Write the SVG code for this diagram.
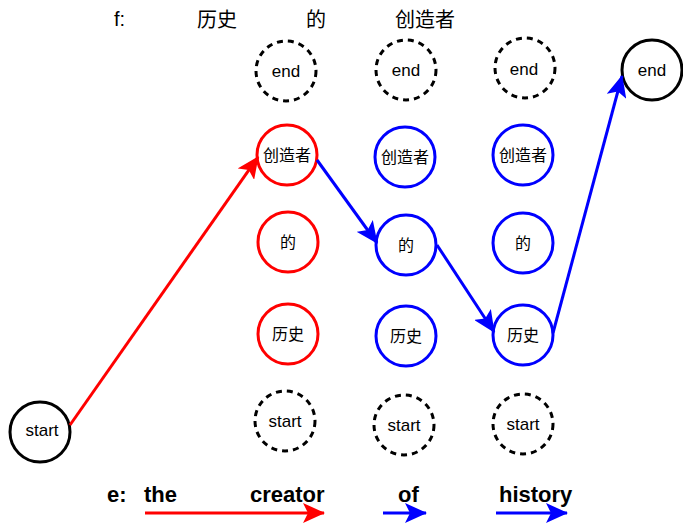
<svg xmlns="http://www.w3.org/2000/svg" width="683" height="529" viewBox="0 0 683 529">
<style>
.n{fill:#fff;stroke-width:3}
.k{stroke:#000}
.r{stroke:#f00}
.b{stroke:#00f}
.d{stroke:#000;stroke-dasharray:6 5}
.t{font-family:"Liberation Sans",Arial,sans-serif;font-size:17px;fill:#000;text-anchor:middle}
.c{font-family:"Noto Sans CJK SC",sans-serif;font-size:16px;fill:#000;text-anchor:middle}
.top{font-family:"Noto Sans CJK SC",sans-serif;font-size:20px;fill:#000}
.e{font-family:"Liberation Sans",Arial,sans-serif;font-size:22px;font-weight:bold;fill:#000}
.lr{stroke:#f00;stroke-width:3;fill:none}
.lb{stroke:#00f;stroke-width:3;fill:none}
</style>
<defs>
<marker id="ar" viewBox="0 0 22 20" refX="21" refY="10" markerWidth="22" markerHeight="20" markerUnits="userSpaceOnUse" orient="auto"><path d="M0,0 L22,10 L0,20 L5,10 Z" fill="#f00"/></marker>
<marker id="ab" viewBox="0 0 22 20" refX="21" refY="10" markerWidth="22" markerHeight="20" markerUnits="userSpaceOnUse" orient="auto"><path d="M0,0 L22,10 L0,20 L5,10 Z" fill="#00f"/></marker>
</defs>
<g id="labels">
<text x="114" y="26" class="top" style="font-family:'Liberation Sans',Arial,sans-serif">f:</text>
<text x="197" y="27" class="top">历史</text>
<text x="306" y="27" class="top">的</text>
<text x="395" y="27" class="top">创造者</text>
<text x="107" y="502" class="e">e:</text>
<text x="144" y="502" class="e">the</text>
<text x="250" y="502" class="e">creator</text>
<text x="398" y="502" class="e">of</text>
<text x="499" y="502" class="e">history</text>
</g>
<g id="start0"><circle cx="40" cy="432" r="30" class="n k"/><text x="42" y="436" class="t">start</text></g>
<g id="end4"><circle cx="652" cy="70" r="30" class="n k"/><text x="652" y="76" class="t">end</text></g>
<g id="c1_end"><circle cx="286" cy="71" r="30" class="n d"/><text x="286" y="77" class="t">end</text></g>
<g id="c2_end"><circle cx="406" cy="70" r="30" class="n d"/><text x="406" y="76" class="t">end</text></g>
<g id="c3_end"><circle cx="525" cy="68" r="30" class="n d"/><text x="524" y="75" class="t">end</text></g>
<g id="c1_chuangzaozhe"><circle cx="287" cy="155" r="30" class="n r"/><text x="287" y="161" class="c">创造者</text></g>
<g id="c2_chuangzaozhe"><circle cx="405" cy="157" r="30" class="n b"/><text x="405" y="163" class="c">创造者</text></g>
<g id="c3_chuangzaozhe"><circle cx="523" cy="155" r="30" class="n b"/><text x="523" y="161" class="c">创造者</text></g>
<g id="c1_de"><circle cx="288" cy="242" r="30" class="n r"/><text x="288" y="248" class="c">的</text></g>
<g id="c2_de"><circle cx="406" cy="245" r="30" class="n b"/><text x="406" y="251" class="c">的</text></g>
<g id="c3_de"><circle cx="523" cy="243" r="30" class="n b"/><text x="523" y="249" class="c">的</text></g>
<g id="c1_lishi"><circle cx="288" cy="334" r="30" class="n r"/><text x="288" y="340" class="c">历史</text></g>
<g id="c2_lishi"><circle cx="406" cy="336" r="30" class="n b"/><text x="406" y="342" class="c">历史</text></g>
<g id="c3_lishi"><circle cx="523" cy="335" r="30" class="n b"/><text x="523" y="341" class="c">历史</text></g>
<g id="c1_start"><circle cx="285" cy="421" r="30" class="n d"/><text x="285" y="427" class="t">start</text></g>
<g id="c2_start"><circle cx="404" cy="425" r="30" class="n d"/><text x="404" y="431" class="t">start</text></g>
<g id="c3_start"><circle cx="523" cy="424" r="30" class="n d"/><text x="523" y="430" class="t">start</text></g>
<g id="connectors">
<path d="M70,425 L258,157" class="lr" marker-end="url(#ar)"/>
<path d="M317,160 L377,243" class="lb" marker-end="url(#ab)"/>
<path d="M437,245 L494,332" class="lb" marker-end="url(#ab)"/>
<path d="M553,333 L622,76" class="lb" marker-end="url(#ab)"/>
<path d="M145,513 L324,513" class="lr" marker-end="url(#ar)"/>
<path d="M383,513 L426,513" class="lb" marker-end="url(#ab)"/>
<path d="M496,513 L567,513" class="lb" marker-end="url(#ab)"/>
</g>
</svg>
